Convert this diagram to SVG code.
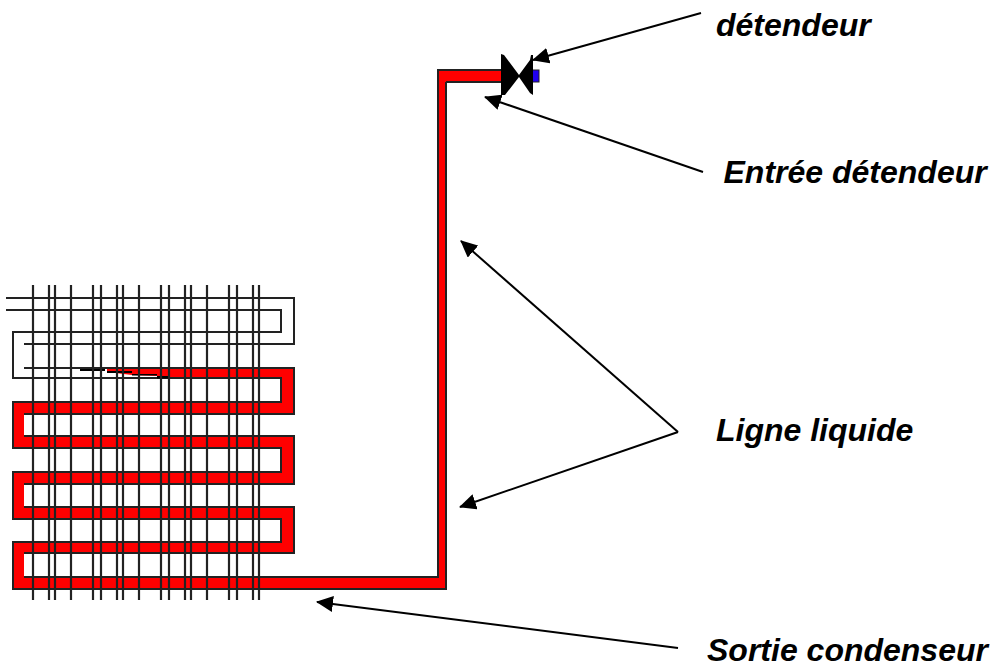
<svg xmlns="http://www.w3.org/2000/svg" width="992" height="666" viewBox="0 0 992 666">
<style>
.p{fill:none;stroke:#222;stroke-width:2}
.g line{stroke:#222;stroke-width:2.2}
.a{stroke:#000;stroke-width:2;fill:none;marker-end:url(#h)}
text{font-family:"Liberation Sans",Arial,sans-serif;font-weight:bold;font-style:italic;font-size:32px;fill:#000}
</style>
<defs><marker id="h" markerUnits="userSpaceOnUse" markerWidth="18" markerHeight="16" refX="16" refY="8" orient="auto"><path d="M0 0L17 8L0 16Z" fill="#000"/></marker></defs>
<rect width="992" height="666" fill="#fff"/>
<g id="condenseur">
<path d="M446 82V589H13V542H281V519H13V472H281V448H13V402H281V378H170L157 376L132 375L107 372V369H281V368H294V414H24V436H294V484H24V507H294V553H24V577H438V70H503V82Z" fill="#f00"/>
<path class="p" d="M6 298H294V344H24M6 310H281V332H13V378H170M24 368H294V414H24M24 436H294V484H24M24 507H294V553H24M24 577H438V70H503M446 82H503M446 82V589H13V542H281V519H13V472H281V448H13V402H281V378H170"/>
<path d="M80 369H105V371H80ZM107 371H132V373H107ZM132 374H157V375.500H132ZM157 376H170V378.500H157Z" fill="#000"/>
<g class="g">
<line x1="33" y1="285" x2="33" y2="600"/><line x1="49" y1="285" x2="49" y2="600"/><line x1="55" y1="285" x2="55" y2="600"/><line x1="71" y1="285" x2="71" y2="600"/><line x1="93" y1="285" x2="93" y2="600"/><line x1="101" y1="285" x2="101" y2="600"/><line x1="117" y1="285" x2="117" y2="600"/><line x1="123" y1="285" x2="123" y2="600"/><line x1="139" y1="285" x2="139" y2="600"/><line x1="161" y1="285" x2="161" y2="600"/><line x1="169" y1="285" x2="169" y2="600"/><line x1="185" y1="285" x2="185" y2="600"/><line x1="191" y1="285" x2="191" y2="600"/><line x1="207" y1="285" x2="207" y2="600"/><line x1="229" y1="285" x2="229" y2="600"/><line x1="237" y1="285" x2="237" y2="600"/><line x1="253" y1="285" x2="253" y2="600"/><line x1="259" y1="285" x2="259" y2="600"/>
</g>
</g>
<g id="detendeur">
<rect x="532" y="70" width="7" height="12" fill="#2000f0" stroke="#222" stroke-width="1"/>
<path d="M501 54L504 55L519 75L530 60L531 55L533 55L533 95L530 93L519 77L505 95L501 95Z" fill="#000"/>
</g>
<g id="connecteurs">
<line class="a" x1="701" y1="13" x2="533" y2="60"/>
<line class="a" x1="703" y1="172" x2="485" y2="97"/>
<line class="a" x1="678" y1="432" x2="461" y2="241"/>
<line class="a" x1="678" y1="432" x2="460" y2="507"/>
<line class="a" x1="678" y1="648" x2="317" y2="602"/>
</g>
<g id="labels">
<text x="716" y="36">détendeur</text>
<text x="723.500" y="183">Entrée détendeur</text>
<text x="716" y="441">Ligne liquide</text>
<text x="707" y="661">Sortie condenseur</text>
</g>
</svg>
